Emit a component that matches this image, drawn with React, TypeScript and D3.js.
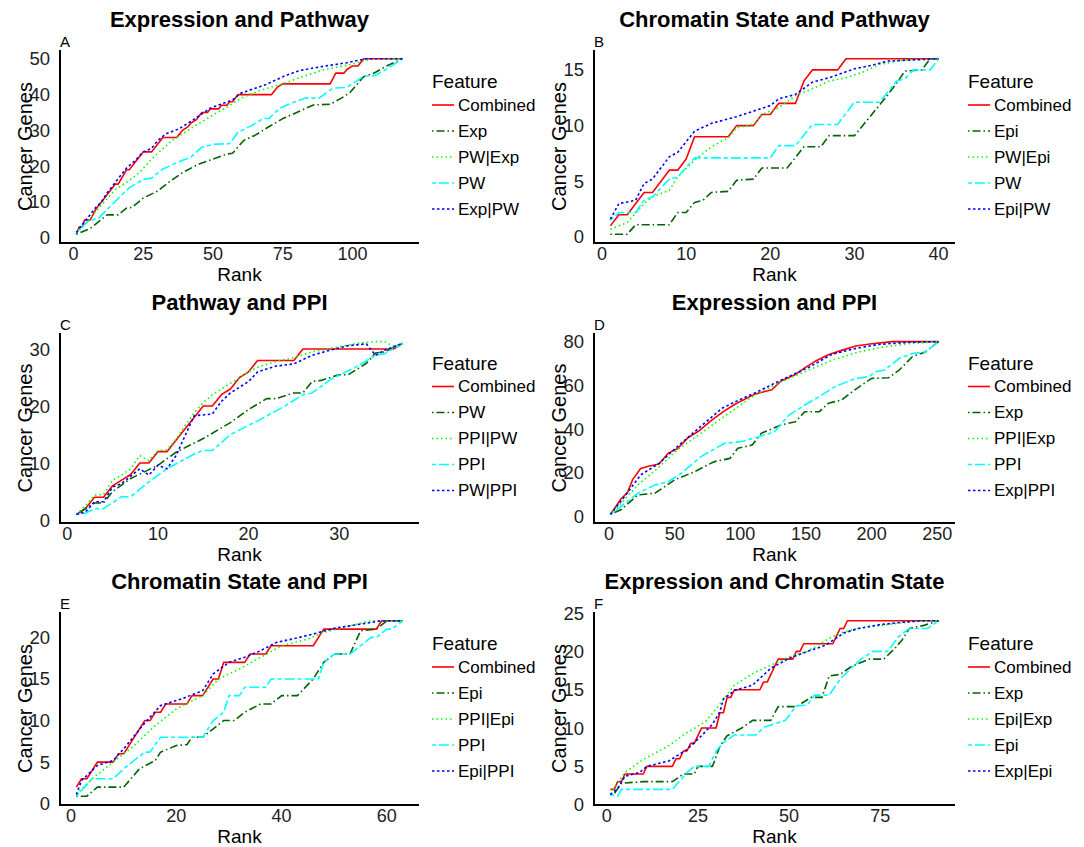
import * as d3 from "d3";

type Pt = [number, number];

// ---- A: Expression and Pathway ----
const aCombined: Pt[] = [[1,1],[2,3],[3,3],[4,5],[6,5],[8,8],[9,9],[10,10],[12,12],[15,15],[16,15],[19,19],[20,19],[22,21],[24,23],[25,24],[28,24],[30,26],[32,28],[37,28],[39,30],[41,31],[42,32],[44,33],[46,35],[48,35],[49,36],[52,36],[53,37],[55,37],[56,38],[57,38],[59,40],[71,40],[73,42],[75,43],[92,43],[94,46],[97,46],[98,47],[100,48],[102,48],[104,50],[118,50]];
const aExp: Pt[] = [[1,1],[6,2.6],[12,6.4],[16,6.4],[19,8.3],[21,8.5],[25,11.1],[30,13],[34,15.4],[39,18.2],[45,20.6],[50,22],[55,23.4],[57,23.6],[61,27.2],[65,28.6],[70,31],[75,33.3],[80,35],[86,37.1],[92,37.3],[96,39],[99,40.5],[104,45],[108,46.1],[112,47.9],[118,50]];
const aPWExp: Pt[] = [[1,1.2],[5,4.5],[9,8.3],[15,13.5],[20,16],[24,18.5],[28,22],[35,27],[39,29],[44,31.5],[50,34.3],[55,36.5],[60,39],[67,41.2],[75,43],[82,45],[90,47],[100,48.5],[107,50],[118,50]];
const aPW: Pt[] = [[1,1.5],[5,4.5],[9,5.5],[15,10.2],[20,14],[25,16.3],[28,16.7],[32,19.2],[37,21],[42,22.5],[46,25.3],[50,26.1],[56,26.3],[59,29.5],[64,31.4],[68,33.3],[70,33.3],[74,36.2],[78,37.6],[83,39],[88,39],[93,41.8],[98,42],[104,45.1],[108,45.3],[112,47],[118,50]];
const aExpPW: Pt[] = [[1,1.5],[3,3.5],[5,5.5],[8,8.5],[10,10],[12,12.5],[15,15.5],[19,19.5],[22,21.5],[25,24],[28,25],[30,27],[33,29],[38,30.5],[43,33],[49,36.2],[57,38.5],[60,40.4],[69,42.8],[76,45.3],[81,46.7],[88,47.7],[98,48.9],[105,50],[118,50]];
const aXTicks = [0, 25, 50, 75, 100];
const aYTicks = [0, 10, 20, 30, 40, 50];

// ---- B: Chromatin State and Pathway ----
const bCombined: Pt[] = [[1,1],[2,2],[3,2],[5,4],[6,4],[8,6],[9,6],[10,7],[11,9],[15,9],[16,10],[18,10],[19,11],[20,11],[21,12],[23,12],[24,14],[25,15],[28,15],[29,16],[40,16]];
const bEpi: Pt[] = [[1,0.25],[3,0.25],[4,1.1],[8,1.1],[9,2.2],[10,2.2],[11,3.1],[12,3.3],[13,4],[15,4.1],[16,5.1],[18,5.2],[19,6.2],[22,6.2],[24,8.1],[26,8.1],[27,9.1],[30,9.1],[34,12.8],[35,13.8],[36,14.9],[38,15],[39,16],[40,16]];
const bPWEpi: Pt[] = [[1,0.7],[3,1.3],[5,3],[6,3.6],[8,4.2],[9,5.4],[11,6.9],[13,8.1],[15,8.9],[16,9.8],[18,10.1],[19,11],[21,11.6],[23,12.7],[25,13.3],[27,14],[29,14.3],[31,14.8],[33,15.5],[36,15.9],[40,16]];
const bPW: Pt[] = [[1,1.5],[2,2.2],[4,2.2],[5,3.3],[6,3.6],[8,5.2],[9,5.4],[11,7.1],[20,7.1],[21,8.2],[23,8.2],[25,10.1],[28,10.1],[30,12.1],[33,12.1],[35,14],[36,14.2],[37,15],[39,15],[40,16]];
const bEpiPW: Pt[] = [[1,1.6],[2,3],[4,3.3],[5,4.8],[6,5.2],[8,7.2],[9,7.6],[11,9.5],[13,10.2],[16,10.8],[18,11.3],[20,11.8],[21,12.4],[23,12.8],[25,13.9],[27,14.3],[30,15.1],[32,15.4],[34,15.8],[37,15.9],[40,16]];
const bXTicks = [0, 10, 20, 30, 40];
const bYTicks = [0, 5, 10, 15];

// ---- C: Pathway and PPI ----
const cCombined: Pt[] = [[1,1],[2,2],[3,4],[4,4],[5,6],[6,7],[7,8],[8,10],[9,10],[10,12],[11,12],[12,14],[13,16],[14,18],[15,20],[16,20],[17,22],[18,23],[19,25],[20,26],[21,28],[25,28],[26,30],[36,30],[37,31]];
const cPW: Pt[] = [[1,1],[3,3],[4,3],[5,5],[7,7.3],[10,9.6],[12,11.9],[15,14.3],[18,17.1],[20,19.4],[22,21.3],[23,21.3],[25,22.3],[26,22.3],[27,24.3],[28,24.5],[30,25.5],[31,25.5],[33,27.5],[34,29.3],[35,29.5],[37,31]];
const cPPIPW: Pt[] = [[1,1],[2,2.5],[3,4.4],[4,4.5],[5,7],[6,7.9],[7,9],[8,11.3],[9,10.4],[10,12.2],[11,12.3],[12,14.2],[13,16.6],[14,18.8],[15,20.6],[16,22],[18,24],[20,26],[21,26.8],[23,27.8],[25,28.5],[27,29.5],[30,30.4],[32,31],[34,31.3],[35,31.3],[36,30.5],[37,31]];
const cPPI: Pt[] = [[1,1],[2,1.2],[3,2],[4,2],[6,4.1],[7,4.1],[9,6.7],[11,9],[14,11.6],[15,12.2],[16,12.2],[18,15],[21,17.4],[24,20],[26,22],[27,22.3],[29,24.6],[32,27],[34,28.9],[35,29.2],[37,31]];
const cPWPPI: Pt[] = [[1,1],[2,1.4],[3,3.2],[4,3.2],[5,5.8],[6,6.4],[8,9],[9,7.9],[10,9.6],[11,9],[12,11.3],[13,14.8],[14,18.3],[16,18.6],[17,20.8],[18,22.3],[20,24.3],[21,26],[23,27],[25,27.4],[27,28.9],[29,29.8],[31,30.6],[33,30.9],[34,28.9],[35,29.8],[37,31]];
const cXTicks = [0, 10, 20, 30];
const cYTicks = [0, 10, 20, 30];

// ---- D: Expression and PPI ----
const dCombined: Pt[] = [[1,1],[9,8],[14,11],[18,17],[24,22],[30,23],[38,24],[45,29],[52,31],[60,36],[68,39],[78,44],[87,48],[95,51],[101,53],[111,56],[124,58],[131,62],[142,65],[149,68],[157,71],[167,74],[177,76],[188,78],[200,79],[216,80],[251,80]];
const dExp: Pt[] = [[1,1],[9,3.1],[22,9.9],[35,10.7],[50,16.8],[65,20.5],[80,25.1],[92,26.6],[98,31.2],[109,32.7],[116,38.1],[131,41.9],[142,43.4],[149,47.9],[160,47.9],[167,51.8],[177,53.3],[188,58.3],[200,63.2],[213,63.5],[221,67],[231,73.1],[241,75.3],[249,79.1],[251,80]];
const dPPIExp: Pt[] = [[1,1],[9,6.1],[22,14.5],[37,22.1],[52,30.5],[70,38.1],[91,47.2],[111,55.6],[131,61.6],[149,66.2],[170,71.5],[190,75.3],[210,77.6],[228,79.1],[251,80]];
const dPPI: Pt[] = [[1,1],[9,4.6],[22,10.7],[35,14.5],[45,15.9],[55,19.8],[70,27.4],[88,33.5],[101,34.3],[114,36.5],[126,38.8],[137,46.4],[149,51],[160,54.8],[172,59.4],[188,63.2],[198,64],[203,66.2],[210,67],[221,72.3],[231,74.6],[241,75.3],[251,80]];
const dExpPPI: Pt[] = [[1,1],[9,7],[14,11],[24,19],[38,24.3],[52,32],[68,40.3],[86,49.5],[96,52.5],[111,56.5],[131,62.4],[152,68.2],[170,74.3],[188,76.9],[205,78.7],[228,79.7],[251,80]];
const dXTicks = [0, 50, 100, 150, 200, 250];
const dYTicks = [0, 20, 40, 60, 80];

// ---- E: Chromatin State and PPI ----
const eCombined: Pt[] = [[1,2],[2,3],[3,3],[5,5],[8,5],[9,6],[10,6],[14,10],[15,10],[16,11],[17,11],[18,12],[22,12],[23,13],[25,13],[27,15],[28,15],[29,17],[33,17],[34,18],[37,18],[38,19],[46,19],[48,21],[58,21],[59,22],[63,22]];
const eEpi: Pt[] = [[1,0.9],[3,0.9],[5,2],[10,2],[13,4.2],[16,5.2],[17,6.2],[20,7],[22,7.1],[23,8],[25,8],[27,9],[29,10],[31,10],[33,11],[36,12],[38,12],[40,13],[43,13],[46,15],[48,17],[50,18],[53,18],[55,20.8],[58,21],[60,22],[63,22]];
const ePPIEpi: Pt[] = [[1,1.1],[4,3],[8,5],[12,7],[16,9.4],[20,11.4],[25,13],[28,15],[32,16.2],[36,17.6],[40,19],[45,19.8],[48,20.6],[53,21.4],[57,22],[63,22]];
const ePPI: Pt[] = [[1,0.9],[2,1.6],[4,3],[8,3],[10,4.2],[12,5.2],[14,6.2],[15,6.2],[17,8],[25,8],[27,10],[29,11],[30,13],[32,13],[33,14],[37,14],[38,15],[47,15],[48,17],[50,18],[53,18],[55,19],[57,20],[58,20],[60,21],[61,21],[63,22]];
const eEpiPPI: Pt[] = [[1,1.1],[2,2.8],[5,4.6],[8,5.2],[10,6.6],[14,9.7],[17,11.8],[21,12.6],[25,13.6],[27,15.6],[30,17],[33,17.6],[36,18.4],[39,19.4],[42,19.8],[46,20.4],[50,21.1],[55,21.6],[59,22],[63,22]];
const eXTicks = [0, 20, 40, 60];
const eYTicks = [0, 5, 10, 15, 20];

// ---- F: Expression and Chromatin State ----
const fCombined: Pt[] = [[1,2],[2,2],[3,3],[4,3],[5,4],[10,4],[11,5],[18,5],[19,6],[20,6],[21,7],[22,7],[23,8],[24,8],[25,9],[26,10],[30,10],[31,12],[32,12],[33,14],[34,14],[35,15],[42,15],[43,16],[44,16],[45,17],[46,18],[47,19],[51,19],[52,20],[53,20],[54,21],[62,21],[63,22],[64,23],[65,23],[66,24],[91,24]];
const fExp: Pt[] = [[1,1.4],[2,1.4],[4,2.8],[10,3],[18,3],[21,4],[24,4],[25,5],[29,5],[31,7.6],[33,9],[37,10],[40,11],[45,11],[47,12.8],[52,12.8],[56,14],[59,14],[61,16.8],[64,17],[67,18],[72,19],[76,19],[79,20.4],[81,21.5],[83,23],[87,23.4],[91,24]];
const fEpiExp: Pt[] = [[1,1.4],[3,2.8],[5,4.2],[10,5.9],[17,7.7],[22,9.4],[27,10.8],[30,12.5],[35,15.6],[40,17.1],[45,18.2],[50,19.3],[55,20],[61,21.7],[64,22.4],[69,23],[77,23.5],[84,23.9],[91,24]];
const fEpi: Pt[] = [[1,1.3],[3,1.1],[4,2],[18,2],[20,3.1],[22,4.2],[24,5],[28,5],[30,7],[32,8.1],[35,9.1],[41,9.1],[43,10.1],[49,11],[52,12.9],[55,13],[57,14.3],[61,14.3],[64,16.4],[67,17.8],[70,19.1],[73,20],[77,20],[80,21.9],[83,23],[88,23],[91,24]];
const fExpEpi: Pt[] = [[1,1.3],[3,2.1],[5,3.7],[9,4.2],[11,5],[17,5.7],[22,7.2],[26,9],[29,10.5],[31,12.1],[32,13.8],[35,14.9],[40,15.6],[45,17.8],[50,19.1],[55,20],[60,20.8],[65,22.4],[69,23],[75,23.5],[81,23.8],[86,24],[91,24]];
const fXTicks = [0, 25, 50, 75];
const fYTicks = [0, 5, 10, 15, 20, 25];

const COLORS = ["#ff0000", "#006400", "#00ff00", "#00ffff", "#0000ff"];
const DASHES = [undefined, "1.5 3 8 3", "1.5 3", "4 3 10 3", "2.5 2.5"];

const COLS = [
  { left: 60, right: 419 },
  { left: 594, right: 955 },
];
const ROWS = [
  { top: 50, bottom: 243 },
  { top: 333, bottom: 523 },
  { top: 612, bottom: 805 },
];

const panels = [
  { tag: "A", title: "Expression and Pathway", col: 0, row: 0, names: ["Combined", "Exp", "PW|Exp", "PW", "Exp|PW"], series: [aCombined, aExp, aPWExp, aPW, aExpPW], xTicks: aXTicks, yTicks: aYTicks },
  { tag: "B", title: "Chromatin State and Pathway", col: 1, row: 0, names: ["Combined", "Epi", "PW|Epi", "PW", "Epi|PW"], series: [bCombined, bEpi, bPWEpi, bPW, bEpiPW], xTicks: bXTicks, yTicks: bYTicks },
  { tag: "C", title: "Pathway and PPI", col: 0, row: 1, names: ["Combined", "PW", "PPI|PW", "PPI", "PW|PPI"], series: [cCombined, cPW, cPPIPW, cPPI, cPWPPI], xTicks: cXTicks, yTicks: cYTicks },
  { tag: "D", title: "Expression and PPI", col: 1, row: 1, names: ["Combined", "Exp", "PPI|Exp", "PPI", "Exp|PPI"], series: [dCombined, dExp, dPPIExp, dPPI, dExpPPI], xTicks: dXTicks, yTicks: dYTicks },
  { tag: "E", title: "Chromatin State and PPI", col: 0, row: 2, names: ["Combined", "Epi", "PPI|Epi", "PPI", "Epi|PPI"], series: [eCombined, eEpi, ePPIEpi, ePPI, eEpiPPI], xTicks: eXTicks, yTicks: eYTicks },
  { tag: "F", title: "Expression and Chromatin State", col: 1, row: 2, names: ["Combined", "Exp", "Epi|Exp", "Epi", "Exp|Epi"], series: [fCombined, fExp, fEpiExp, fEpi, fExpEpi], xTicks: fXTicks, yTicks: fYTicks },
];

const FONT = "'Liberation Sans', Arial, sans-serif";

// ggplot-style 5% expansion
function expand(ext: [number, number]): [number, number] {
  const r = ext[1] - ext[0];
  return [ext[0] - 0.05 * r, ext[1] + 0.05 * r];
}

function Panel({ p }: { p: (typeof panels)[number] }) {
  const { left, right } = COLS[p.col];
  const { top, bottom } = ROWS[p.row];
  const all = p.series.flat();
  const x = d3.scaleLinear().domain(expand(d3.extent(all, (d) => d[0]) as [number, number])).range([left, right]);
  const y = d3.scaleLinear().domain(expand(d3.extent(all, (d) => d[1]) as [number, number])).range([bottom, top]);
  const line = d3
    .line<Pt>()
    .x((d) => x(d[0]))
    .y((d) => y(d[1]));
  const cx = (left + right) / 2;
  const cy = (top + bottom) / 2;
  const lx = right + 13;

  return (
    <g fontFamily={FONT}>
      <text x={cx} y={top - 23} textAnchor="middle" fontWeight="bold" fontSize={22} fill="#000">
        {p.title}
      </text>
      <text x={left} y={top - 3.5} fontSize={15} fill="#000">
        {p.tag}
      </text>

      {p.series.map((s, i) => (
        <path
          key={i}
          d={line(s) ?? ""}
          fill="none"
          stroke={COLORS[i]}
          strokeWidth={1.6}
          strokeDasharray={DASHES[i]}
          strokeLinejoin="round"
        />
      ))}

      <line x1={left} x2={left} y1={top} y2={bottom} stroke="#000" strokeWidth={2} />
      <line x1={left - 1} x2={right} y1={bottom} y2={bottom} stroke="#000" strokeWidth={2} />

      {p.yTicks.map((t) => (
        <text key={t} x={left - 10} y={y(t)} dy="0.35em" textAnchor="end" fontSize={18.5} fill="#222">
          {t}
        </text>
      ))}
      {p.xTicks.map((t) => (
        <text key={t} x={x(t)} y={bottom + 17} textAnchor="middle" fontSize={18} fill="#222">
          {t}
        </text>
      ))}

      <text x={cx} y={bottom + 38} textAnchor="middle" fontSize={19} fill="#000">
        Rank
      </text>
      <text
        transform={`translate(${left - 28},${cy}) rotate(-90)`}
        textAnchor="middle"
        fontSize={20}
        fill="#000"
      >
        Cancer Genes
      </text>

      <text x={lx} y={cy - 65} dy="0.35em" fontSize={19} fill="#000">
        Feature
      </text>
      {p.names.map((n, i) => {
        const ly = cy - 41.5 + i * 26;
        return (
          <g key={n}>
            <line
              x1={lx}
              x2={lx + 22}
              y1={ly}
              y2={ly}
              stroke={COLORS[i]}
              strokeWidth={1.6}
              strokeDasharray={DASHES[i]}
            />
            <text x={lx + 26} y={ly} dy="0.35em" fontSize={17} fill="#000">
              {n}
            </text>
          </g>
        );
      })}
    </g>
  );
}

export default function App() {
  return (
    <svg
      width={1084}
      height={847}
      style={{ position: "absolute", left: 0, top: 0, background: "#fff" }}
    >
      {panels.map((p) => (
        <Panel key={p.tag} p={p} />
      ))}
    </svg>
  );
}
